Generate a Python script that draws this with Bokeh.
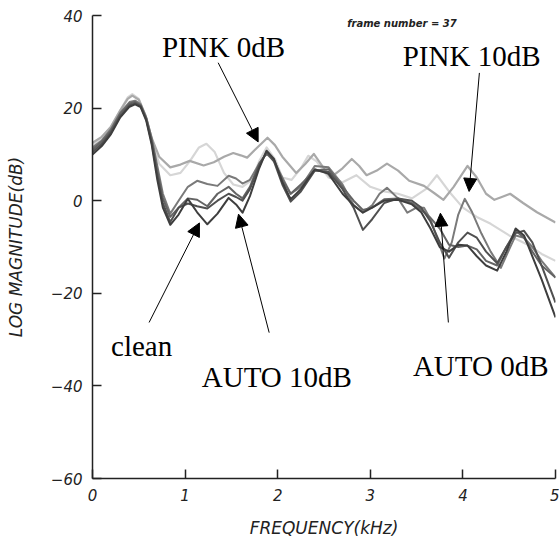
from bokeh.plotting import figure
from bokeh.models import Range1d, Label, Arrow, NormalHead, FixedTicker
from bokeh.embed import file_html
from bokeh.resources import INLINE

# Log-magnitude spectra (dB) against frequency (kHz), frame 37
grid_khz = [0, 0.1, 0.2, 0.3, 0.4, 0.46, 0.52, 0.58, 0.64, 0.7,
            0.76, 0.84, 0.93, 1.03, 1.13, 1.24, 1.35, 1.47, 1.55, 1.62,
            1.7, 1.8, 1.88, 1.96, 2.05, 2.14, 2.25, 2.4, 2.55, 2.7,
            2.82, 2.92, 3.02, 3.15, 3.3, 3.45, 3.55, 3.65, 3.75, 3.85,
            3.95, 4.05, 4.15, 4.25, 4.37, 4.47, 4.57, 4.66, 4.75, 4.85, 5.0]

clean_db = [10.0, 11.8, 14.4, 18.0, 20.3, 20.8, 20.2, 17.3, 12.0, 4.5,
            -1.5, -5.2, -3.0, 0.4, -2.5, -5.1, -2.8, 0.6, -0.8, -2.6,
            1.0, 7.0, 10.8, 9.0, 4.0, 0.3, 2.5, 6.8, 5.8, 1.5,
            -1.0, -2.6, -1.5, 0.0, 0.2, -0.8, -2.5, -6.0, -10.0, -11.0,
            -9.5, -9.7, -12.0, -14.0, -15.1, -11.0, -6.0, -7.5, -12.0, -17.0, -25.2]

auto10_db = [10.5, 12.3, 14.8, 18.3, 20.6, 21.0, 20.4, 17.6, 12.5, 5.5,
             -0.5, -4.6, -1.5, -0.6, -1.2, -1.7, 0.0, 1.5, 0.8, 0.0,
             2.5, 7.5, 10.6, 8.5, 3.5, -0.2, 2.0, 6.5, 6.2, 2.5,
             -1.5, -6.3, -4.0, -0.5, 0.5, 0.0, -1.5, -4.5, -9.0, -12.3,
             -9.0, -6.9, -8.0, -11.0, -13.5, -10.0, -7.0, -6.5, -9.0, -14.0, -22.0]

auto0_db = [11.0, 12.8, 15.2, 18.8, 21.0, 21.3, 20.6, 17.8, 13.0, 6.5,
            0.5, -3.5, -1.5, 0.5, 0.2, -1.2, 1.5, 3.0, 1.5, 0.5,
            3.0, 8.0, 10.2, 8.8, 4.5, 1.5, 3.5, 6.5, 6.8, 3.0,
            0.0, -2.0, -1.5, 0.3, 0.5, -0.5, -2.0, -3.7, -6.0, -9.5,
            -10.0, -9.7, -10.5, -13.0, -14.0, -10.0, -6.5, -8.0, -11.0, -14.0, -16.6]

pink10_khz = [0, 0.1, 0.2, 0.3, 0.4, 0.46, 0.52, 0.58, 0.64, 0.7,
              0.76, 0.84, 0.93, 1.03, 1.13, 1.24, 1.35, 1.47, 1.55, 1.62,
              1.7, 1.8, 1.88, 1.96, 2.05, 2.14, 2.25, 2.4, 2.55, 2.7,
              2.82, 2.92, 3.02, 3.1, 3.18, 3.3, 3.4, 3.5, 3.58, 3.65,
              3.72, 3.8, 3.88, 3.95, 4.02, 4.1, 4.2, 4.3, 4.41, 4.5,
              4.57, 4.66, 4.75, 4.85, 5.0]
pink10_db = [11.5, 13.0, 15.5, 19.0, 21.3, 21.6, 20.8, 18.0, 13.5, 7.5,
             1.5, -2.8, 0.0, 3.0, 4.3, 3.6, 3.2, 5.4, 4.8, 3.7,
             4.5, 8.0, 10.2, 8.5, 5.0, 1.5, 3.0, 7.5, 7.2, 3.5,
             -1.0, -2.5, -1.0, 1.5, 2.8, 0.5, -2.6, -1.5, -1.5, -4.0,
             -8.0, -12.5, -9.0, -3.0, 0.4, -2.5, -7.1, -11.0, -14.5, -10.5,
             -7.5, -8.0, -10.0, -13.0, -16.6]

pink0_khz = [0, 0.1, 0.2, 0.3, 0.38, 0.43, 0.5, 0.57, 0.64, 0.72,
             0.84, 0.95, 1.05, 1.2, 1.31, 1.42, 1.52, 1.6, 1.67, 1.78,
             1.89, 1.97, 2.05, 2.2, 2.3, 2.39, 2.48, 2.57, 2.7, 2.8,
             2.88, 2.96, 3.07, 3.18, 3.3, 3.42, 3.58, 3.7, 3.79, 3.9,
             4.05, 4.15, 4.25, 4.34, 4.42, 4.51, 4.65, 4.8, 5.0]
pink0_db = [12.5, 13.8, 16.0, 19.5, 22.0, 22.7, 21.8, 18.5, 13.5, 9.5,
            7.2, 7.8, 8.6, 7.6, 8.3, 9.5, 10.3, 9.8, 9.3, 11.5,
            13.6, 12.0, 9.5, 6.0, 8.0, 10.1, 7.5, 5.0, 7.0, 9.0,
            7.5, 5.5, 6.5, 8.0, 6.5, 4.3, 3.2, 1.5, 0.2, 3.0,
            7.5, 5.0, 1.5, 0.2, 0.8, 1.5, -0.5, -2.5, -4.7]

faint_khz = [0, 0.1, 0.2, 0.3, 0.38, 0.43, 0.5, 0.57, 0.64, 0.72,
             0.84, 0.95, 1.05, 1.15, 1.23, 1.32, 1.42, 1.52, 1.62, 1.72,
             1.8, 1.88, 1.97, 2.05, 2.15, 2.25, 2.33, 2.42, 2.55, 2.7,
             2.85, 3.0, 3.15, 3.3, 3.45, 3.6, 3.72, 3.85, 4.0, 4.15,
             4.3, 4.5, 4.7, 4.85, 5.0]
faint_db = [12.0, 13.5, 16.0, 19.5, 22.3, 23.0, 22.0, 18.5, 13.0, 8.0,
            5.5, 6.0, 8.5, 11.5, 12.3, 10.5, 6.0, 3.5, 3.0, 4.5,
            8.5, 11.5, 9.0, 5.0, 4.5, 7.0, 9.7, 8.5, 5.0, 4.0,
            5.5, 3.0, 2.0, 1.5, 0.5, 2.5, 5.5, 2.0, -1.5, -3.5,
            -5.0, -7.5, -9.5, -11.5, -13.0]

x_ticks = [0, 1, 2, 3, 4, 5]
y_ticks = [-60, -40, -20, 0, 20, 40]

# (text, x kHz, baseline dB) and arrows (x0, y0, x1, y1)
callouts = [
    ("PINK 0dB", 0.75, 33.1, (1.357, 29.8, 1.789, 12.7)),
    ("PINK 10dB", 3.35, 31.3, (4.178, 27.6, 4.067, 2.0)),
    ("clean", 0.20, -31.3, (0.611, -26.3, 1.155, -4.8)),
    ("AUTO 10dB", 1.18, -38.1, (1.908, -28.5, 1.577, -2.9)),
    ("AUTO 0dB", 3.46, -35.8, (3.843, -26.3, 3.757, -2.7)),
]

p = figure(width=559, height=542, x_range=Range1d(0, 5), y_range=Range1d(-60, 40),
           output_backend="svg", toolbar_location=None,
           min_border_left=92, min_border_right=4, min_border_top=15, min_border_bottom=64)
p.outline_line_color = None
p.grid.visible = False
p.background_fill_color = "white"
p.border_fill_color = "white"

series = [
    (faint_khz, faint_db, "#d6d6d6", 2.2),
    (pink0_khz, pink0_db, "#a9a9a9", 2.2),
    (pink10_khz, pink10_db, "#7a7a7a", 2.0),
    (grid_khz, auto0_db, "#646464", 2.0),
    (grid_khz, auto10_db, "#505050", 2.0),
    (grid_khz, clean_db, "#3e3e3e", 2.0),
]
for xs, ys, col, lw in series:
    p.line(xs, ys, line_color=col, line_width=lw, line_join="round")

for ax in (p.xaxis[0], p.yaxis[0]):
    ax.axis_line_color = "#222222"
    ax.axis_line_width = 1.5
    ax.major_tick_line_color = "#222222"
    ax.major_tick_line_width = 1.5
    ax.major_tick_in = 9
    ax.major_tick_out = 0
    ax.minor_tick_line_color = None
    ax.major_label_text_font = "DejaVu Sans"
    ax.major_label_text_font_style = "italic"
    ax.major_label_text_font_size = "15px"
    ax.major_label_text_color = "#222222"
    ax.axis_label_text_font = "DejaVu Sans"
    ax.axis_label_text_font_style = "italic"
    ax.axis_label_text_font_size = "17px"
    ax.axis_label_text_color = "#222222"

p.xaxis.ticker = FixedTicker(ticks=x_ticks)
p.yaxis.ticker = FixedTicker(ticks=y_ticks)
p.xaxis.axis_label = "FREQUENCY(kHz)"
p.yaxis.axis_label = "LOG MAGNITUDE(dB)"
p.xaxis.major_label_standoff = 10
p.yaxis.major_label_standoff = 10
p.xaxis.axis_label_standoff = 14
p.yaxis.axis_label_standoff = 22

p.add_layout(Label(x=2.75, y=38.3, text="frame number = 37", text_font="DejaVu Sans",
                   text_font_style="bold italic", text_font_size="10px",
                   text_color="#222222", text_baseline="alphabetic"))

for text, tx, ty, (x0, y0, x1, y1) in callouts:
    p.add_layout(Label(x=tx, y=ty, text=text, text_font="Liberation Serif",
                       text_font_size="29px", text_color="black",
                       text_baseline="alphabetic", text_align="left"))
    p.add_layout(Arrow(end=NormalHead(size=13, fill_color="black", line_color="black"),
                       x_start=x0, y_start=y0, x_end=x1, y_end=y1,
                       line_color="black", line_width=1))

open("out.html", "w").write(file_html(p, INLINE))
